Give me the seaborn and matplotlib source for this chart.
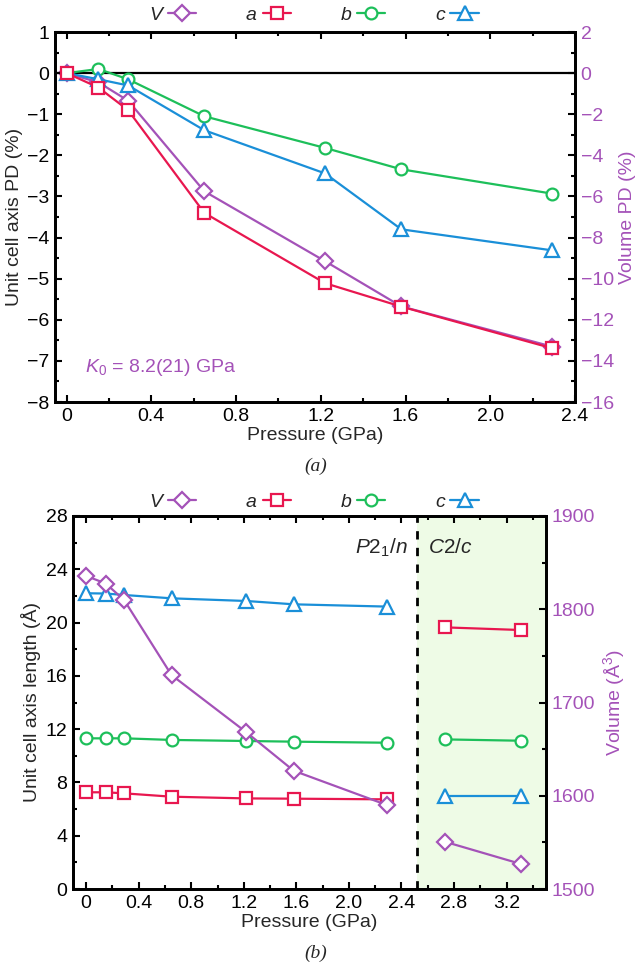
import matplotlib
matplotlib.use("Agg")
import matplotlib.pyplot as plt
from matplotlib.lines import Line2D
from matplotlib.ticker import MultipleLocator, FuncFormatter
import seaborn as sns
import pandas as pd

# ---------------- data ----------------
pressure = [0.0, 0.15, 0.29, 0.65, 1.22, 1.58, 2.29]
pd_a = [0.0, -0.35, -0.90, -3.40, -5.11, -5.68, -6.69]
pd_b = [0.0, 0.10, -0.15, -1.05, -1.82, -2.34, -2.93]
pd_c = [0.0, -0.15, -0.30, -1.39, -2.44, -3.80, -4.31]
pd_V = [0.0, -0.45, -1.34, -5.75, -9.15, -11.35, -13.30]

pressure_hp = [2.73, 3.31]
len_a = [7.26, 7.26, 7.18, 6.93, 6.80, 6.78, 6.73]
len_b = [11.31, 11.31, 11.31, 11.19, 11.11, 11.06, 10.98]
len_c = [22.20, 22.18, 22.07, 21.82, 21.62, 21.37, 21.20]
vol = [1835.8, 1827.5, 1809.7, 1729.4, 1668.0, 1626.8, 1590.0]
len_a_hp = [19.64, 19.44]
len_b_hp = [11.23, 11.13]
len_c_hp = [6.98, 6.98]
vol_hp = [1550.7, 1526.8]

labels = ["V", "a", "b", "c"]
colors = {"V": "#A452B8", "a": "#E8174F", "b": "#1DBF5A", "c": "#1A8FD8"}
markers = {"V": "D", "a": "s", "b": "o", "c": "^"}
msizes = {"V": 8, "a": 8.5, "b": 8.5, "c": 10}
purple = "#A452B8"

# ---------------- style ----------------
sns.set_theme(style="ticks")
plt.rcParams["font.family"] = ["Liberation Sans", "DejaVu Sans"]
plt.rcParams["mathtext.fontset"] = "custom"
plt.rcParams["mathtext.rm"] = "Liberation Sans"
plt.rcParams["mathtext.it"] = "Liberation Sans:italic"
plt.rcParams["axes.linewidth"] = 2
fs = 14

W, H = 640, 964
fig = plt.figure(figsize=(6.4, 9.64), dpi=100)


def box(l, t, r, b):
    return [l / W, 1 - b / H, (r - l) / W, (b - t) / H]


ax1 = fig.add_axes(box(55, 32, 575, 402))
ax1r = ax1.twinx()
ax2 = fig.add_axes(box(73, 516, 546, 889))
ax2r = ax2.twinx()


def draw(ax, x, y, key):
    df = pd.DataFrame({"x": x, "y": y})
    sns.lineplot(data=df, x="x", y="y", ax=ax, color=colors[key], marker=markers[key],
                 markersize=msizes[key], markerfacecolor="white",
                 markeredgecolor=colors[key], markeredgewidth=1.6, linewidth=1.6,
                 sort=False, legend=False, zorder=3)


minus = FuncFormatter(lambda v, p: f"{v:.0f}".replace("-", "\u2212"))


def style_axes(ax, axr, xmaj, ymaj, ymin, rmaj, rmin):
    for a in (ax, axr):
        for s in a.spines.values():
            s.set_linewidth(2)
            s.set_color("black")
    ax.xaxis.set_major_locator(MultipleLocator(xmaj))
    ax.xaxis.set_minor_locator(MultipleLocator(xmaj / 2))
    ax.yaxis.set_major_locator(MultipleLocator(ymaj))
    ax.yaxis.set_minor_locator(MultipleLocator(ymin))
    axr.yaxis.set_major_locator(MultipleLocator(rmaj))
    axr.yaxis.set_minor_locator(MultipleLocator(rmin))
    ax.tick_params(axis="both", which="both", direction="in", top=True, labelsize=fs,
                   colors="black", width=1.5, pad=4)
    ax.tick_params(which="major", length=5)
    ax.tick_params(which="minor", length=3)
    axr.tick_params(axis="y", which="both", direction="in", labelsize=fs, width=1.5,
                    labelcolor=purple, color="black", pad=4)
    axr.tick_params(which="major", length=5)
    axr.tick_params(which="minor", length=3)
    ax.grid(False)
    axr.grid(False)
    ax.yaxis.set_major_formatter(minus)
    axr.yaxis.set_major_formatter(minus)


def legend(ypix):
    handles = [Line2D([], [], color=colors[k], marker=markers[k], markersize=msizes[k],
                      markerfacecolor="white", markeredgecolor=colors[k],
                      markeredgewidth=1.6, linewidth=1.6) for k in labels]
    leg = fig.legend(handles, labels, ncol=4, loc="center", bbox_to_anchor=(314 / W, 1 - ypix / H),
                     frameon=False, markerfirst=False, handlelength=1.45, handletextpad=0.3,
                     columnspacing=2.55, fontsize=fs, borderaxespad=0, borderpad=0)
    for t in leg.get_texts():
        t.set_fontstyle("italic")


# ---------------- panel a ----------------
ax1.axhline(0, color="black", linewidth=1.6, zorder=2)
draw(ax1, pressure, pd_b, "b")
draw(ax1, pressure, pd_c, "c")
draw(ax1r, pressure, pd_V, "V")
ax1r.set_zorder(ax1.get_zorder() - 1)
ax1.patch.set_visible(False)
draw(ax1, pressure, pd_a, "a")
ax1.set_xlim(-0.055, 2.4)
ax1.set_ylim(-8, 1)
ax1r.set_ylim(-16, 2)
style_axes(ax1, ax1r, 0.4, 1, 0.5, 2, 1)
ax1.set_xticks([0, 0.4, 0.8, 1.2, 1.6, 2.0, 2.4])
ax1.set_xticklabels(["0", "0.4", "0.8", "1.2", "1.6", "2.0", "2.4"])
ax1.set_xlabel("Pressure (GPa)", fontsize=fs, labelpad=2)
ax1.set_ylabel("Unit cell axis PD (%)", fontsize=fs, labelpad=3)
ax1r.set_ylabel("Volume PD (%)", fontsize=fs, color=purple, labelpad=4)
ax1.text(0.085, -7.15, r"$K_0$ = 8.2(21) GPa", color=purple, fontsize=fs, va="center", ha="left")
legend(15)
fig.text(316 / W, 1 - 466 / H, "(a)", fontsize=fs, family="Liberation Serif", style="italic",
         ha="center", va="center")

# ---------------- panel b ----------------
ax2.axvspan(2.52, 3.5, color="#EEFBE6", zorder=0, lw=0)
ax2.axvline(2.52, color="black", linestyle=(0, (3, 3)), linewidth=2, zorder=1)
draw(ax2r, pressure, vol, "V")
draw(ax2r, pressure_hp, vol_hp, "V")
ax2r.set_zorder(ax2.get_zorder() + 1)
ax2r.patch.set_visible(False)
draw(ax2, pressure, len_c, "c")
draw(ax2, pressure, len_b, "b")
draw(ax2, pressure, len_a, "a")
draw(ax2, pressure_hp, len_a_hp, "a")
draw(ax2, pressure_hp, len_b_hp, "b")
draw(ax2, pressure_hp, len_c_hp, "c")
ax2.set_xlim(-0.1, 3.5)
ax2.set_ylim(0, 28)
ax2r.set_ylim(1500, 1900)
style_axes(ax2, ax2r, 0.4, 4, 2, 100, 50)
ax2.set_xticks([0, 0.4, 0.8, 1.2, 1.6, 2.0, 2.4, 2.8, 3.2])
ax2.set_xticklabels(["0", "0.4", "0.8", "1.2", "1.6", "2.0", "2.4", "2.8", "3.2"])
ax2.set_xlabel("Pressure (GPa)", fontsize=fs, labelpad=2)
ax2.set_ylabel("Unit cell axis length (Å)", fontsize=fs, labelpad=3)
ax2r.set_ylabel("Volume (Å$^3$)", fontsize=fs, color=purple, labelpad=4)
ax2.text(2.45, 25.6, r"$P2_1/n$", fontsize=15, ha="right", va="center")
ax2.text(2.6, 25.6, r"$C2/c$", fontsize=15, ha="left", va="center")
legend(502)
fig.text(316 / W, 1 - 953 / H, "(b)", fontsize=fs, family="Liberation Serif", style="italic",
         ha="center", va="center")

fig.savefig("out.png", dpi=100)
